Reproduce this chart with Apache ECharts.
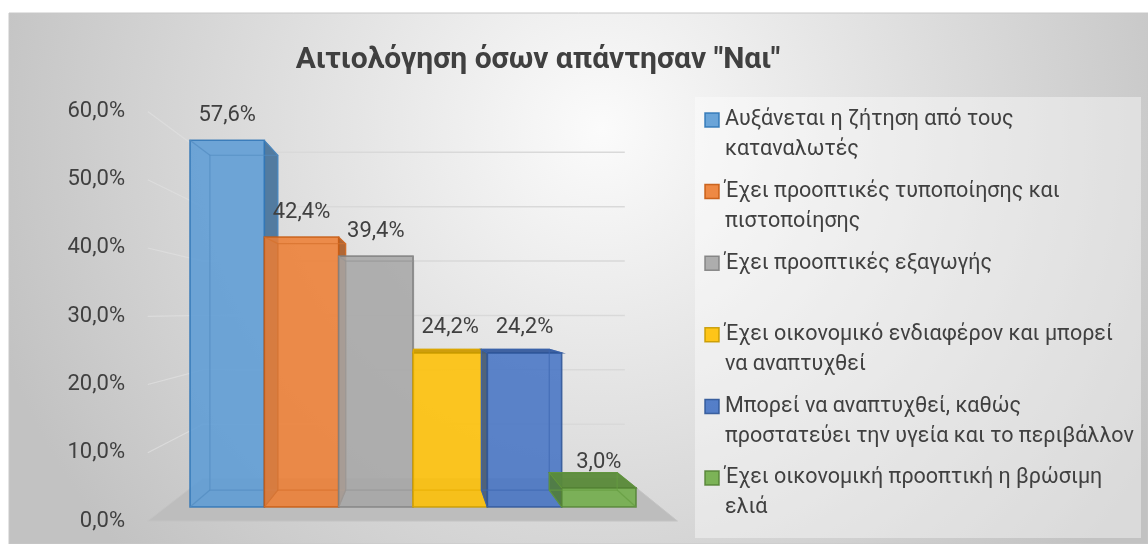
<!DOCTYPE html>
<html>
<head>
<meta charset="utf-8">
<script src="https://cdn.jsdelivr.net/npm/echarts@6/dist/echarts.min.js"></script>
<style>
  html, body { margin: 0; padding: 0; background: #ffffff; }
  #chart { width: 1148px; height: 544px; }
</style>
</head>
<body>
<div id="chart"></div>
<script>
// ---- data ----
const categories = [
  'Αυξάνεται η ζήτηση από τους καταναλωτές',
  'Έχει προοπτικές τυποποίησης και πιστοποίησης',
  'Έχει προοπτικές εξαγωγής',
  'Έχει οικονομικό ενδιαφέρον και μπορεί να αναπτυχθεί',
  'Μπορεί να αναπτυχθεί, καθώς προστατεύει την υγεία και το περιβάλλον',
  'Έχει οικονομική προοπτική η βρώσιμη ελιά'
];
const legendLabels = [
  'Αυξάνεται η ζήτηση από τους\nκαταναλωτές',
  'Έχει προοπτικές τυποποίησης και\nπιστοποίησης',
  'Έχει προοπτικές εξαγωγής',
  'Έχει οικονομικό ενδιαφέρον και μπορεί\nνα αναπτυχθεί',
  'Μπορεί να αναπτυχθεί, καθώς\nπροστατεύει την υγεία και το περιβάλλον',
  'Έχει οικονομική προοπτική η βρώσιμη\nελιά'
];
const values = [57.6, 42.4, 39.4, 24.2, 24.2, 3.0];
const yTicks = [0, 10, 20, 30, 40, 50, 60];
const titleText = 'Αιτιολόγηση όσων απάντησαν "Ναι"';

// ---- palette ----
const faceColors = ['#5b9bd5', '#ed7d31', '#a5a5a5', '#ffc000', '#4472c4', '#70ad47'];
const edgeColors = ['#2e75b6', '#c55a11', '#808080', '#c79a00', '#2f5597', '#548235'];
const TEXT = '#404040';
const FONT = 'Roboto, "Noto Sans", sans-serif';

// ---- perspective settings (in category-band / value units) ----
const VP_CAT = 2.58;    // vanishing point, along the category axis
const VP_VAL = 30.6;    // vanishing point, along the value axis
const K_BACK = 0.913;   // back face of each column
const K_WALL = 0.854;   // back wall plane
const K_FRONT = 1.072;  // front edge of floor / side wall
const WALL_PAD = 0.323; // floor overhang beyond the outer columns

const fmt = v => v.toFixed(1).replace('.', ',') + '%';

function frame(api) {
  const o = api.coord([0, 0]);
  const band = api.size([1, 0])[0];
  const vp = [o[0] + VP_CAT * band, api.coord([0, VP_VAL])[1]];
  return { o, band, vp };
}
function proj(p, k, vp) {
  return [vp[0] + k * (p[0] - vp[0]), vp[1] + k * (p[1] - vp[1])];
}
function shade(hex, f) {
  const n = parseInt(hex.slice(1), 16);
  const r = Math.round(((n >> 16) & 255) * f);
  const g = Math.round(((n >> 8) & 255) * f);
  const b = Math.round((n & 255) * f);
  return 'rgb(' + r + ',' + g + ',' + b + ')';
}
function seg(a, b, style) {
  return { type: 'line', shape: { x1: a[0], y1: a[1], x2: b[0], y2: b[1] }, style };
}

// walls: floor at 0, gridlines on side wall and back wall
function renderWall(params, api) {
  const v = api.value(1);
  const { o, band, vp } = frame(api);
  const y = api.coord([0, v])[1];
  const xl = o[0] - band / 2 - WALL_PAD * band;
  const xr = o[0] + (categories.length - 0.5) * band + WALL_PAD * band;
  if (v === 0) {
    return {
      type: 'polygon',
      shape: { points: [proj([xl, y], K_FRONT, vp), proj([xr, y], K_FRONT, vp),
                        proj([xr, y], K_WALL, vp), proj([xl, y], K_WALL, vp)] },
      style: { fill: '#bdbdbd', stroke: '#c4c4c4', lineWidth: 1 }
    };
  }
  return {
    type: 'group',
    children: [
      seg(proj([xl, y], K_FRONT, vp), proj([xl, y], K_WALL, vp), { stroke: '#dedede', lineWidth: 1.2, opacity: 0.8 }),
      seg(proj([xl, y], K_WALL, vp), proj([xr, y], K_WALL, vp), { stroke: '#d9d9d9', lineWidth: 1.5 })
    ]
  };
}

// columns drawn as transparent boxes
function renderBar(params, api) {
  const i = params.dataIndex;
  const v = api.value(1);
  const { band, vp } = frame(api);
  const top = api.coord([i, v]);
  const base = api.coord([i, 0]);
  const x0 = top[0] - band / 2, x1 = top[0] + band / 2;
  const F = [[x0, top[1]], [x1, top[1]], [x1, base[1]], [x0, base[1]]];
  const B = F.map(p => proj(p, K_BACK, vp));
  const face = faceColors[i], edge = edgeColors[i];
  const inner = { stroke: shade(face, 0.9), lineWidth: 1.2, opacity: 0.7 };
  const kids = [];
  // faces that show outside the front face
  if (B[1][0] > F[1][0] + 0.5) {
    kids.push({ type: 'polygon', shape: { points: [F[1], B[1], B[2], F[2]] },
      style: { fill: shade(face, 0.72), stroke: edge, lineWidth: 1, opacity: 0.9 } });
  }
  if (B[0][0] < F[0][0] - 0.5) {
    kids.push({ type: 'polygon', shape: { points: [F[0], B[0], B[3], F[3]] },
      style: { fill: shade(face, 0.72), stroke: edge, lineWidth: 1, opacity: 0.85 } });
  }
  if (B[0][1] < F[0][1] - 0.5) {
    kids.push({ type: 'polygon', shape: { points: [F[0], F[1], B[1], B[0]] },
      style: { fill: shade(face, 0.8), stroke: edge, lineWidth: 1.2, opacity: 0.95 } });
  }
  // front face
  kids.push({ type: 'polygon', shape: { points: F },
    style: { fill: face, stroke: edge, lineWidth: 1.6, opacity: 0.86 } });
  // hidden edges seen through the front face
  kids.push({ type: 'polygon', shape: { points: B }, style: Object.assign({ fill: 'rgba(0,0,0,0)' }, inner) });
  for (let c = 0; c < 4; c++) kids.push(seg(F[c], B[c], inner));
  // value label
  kids.push({ type: 'text', x: top[0], y: top[1] - 25,
    style: { text: fmt(v), fill: TEXT, font: '22px ' + FONT, align: 'center', verticalAlign: 'middle' } });
  return { type: 'group', children: kids };
}

// legend built from the category list
const legendGraphics = [];
const LEG_Y0 = 120, LEG_STEP = 71.6;
legendLabels.forEach((lab, i) => {
  const cy = LEG_Y0 + i * LEG_STEP;
  legendGraphics.push({
    type: 'rect', x: 705, y: cy - 7, shape: { x: 0, y: 0, width: 14, height: 14 },
    style: { fill: faceColors[i], stroke: edgeColors[i], lineWidth: 1.5, opacity: 0.9 }
  });
  legendGraphics.push({
    type: 'text', x: 725, y: cy - 15,
    style: { text: lab, fill: TEXT, font: '21.5px ' + FONT, lineHeight: 30, verticalAlign: 'top', align: 'left' }
  });
});

const chart = echarts.init(document.getElementById('chart'), null, { renderer: 'canvas' });
chart.setOption({
  animation: false,
  title: {
    text: titleText, left: 533, top: 40, textAlign: 'center',
    textStyle: { fontFamily: FONT, fontWeight: 'bold', fontSize: 30, color: TEXT }
  },
  graphic: [
    { type: 'rect', z: -10, shape: { x: 9, y: 13, width: 1139, height: 531 },
      style: { fill: new echarts.graphic.RadialGradient(0.52, 0.22, 1.2, [
        { offset: 0, color: '#fbfbfb' }, { offset: 1, color: '#c2c2c2' }]),
        stroke: '#c8c8c8', lineWidth: 1 } },
    { type: 'rect', z: -9, shape: { x: 695, y: 97, width: 446, height: 441 },
      style: { fill: 'rgba(255,255,255,0.4)' } },
    ...legendGraphics
  ],
  grid: [
    { left: 190, right: 512, top: 125, bottom: 37 },   // column front plane
    { left: 133, width: 10, top: 111, bottom: 23 }     // value labels on the floor's front edge
  ],
  xAxis: [
    { type: 'category', gridIndex: 0, data: categories, show: false },
    { type: 'category', gridIndex: 1, data: [''], show: false }
  ],
  yAxis: [
    { type: 'value', gridIndex: 0, min: 0, max: 60, interval: 10, show: false },
    { type: 'value', gridIndex: 1, min: 0, max: 60, interval: 10,
      axisLine: { show: false }, axisTick: { show: false }, splitLine: { show: false },
      axisLabel: { formatter: fmt, margin: 8, color: TEXT, fontSize: 22, fontFamily: FONT } }
  ],
  series: [
    { type: 'custom', name: 'walls', xAxisIndex: 0, yAxisIndex: 0, z: 1, silent: true,
      data: yTicks.map(t => [0, t]), renderItem: renderWall },
    { type: 'custom', name: 'Αιτιολόγηση', xAxisIndex: 0, yAxisIndex: 0, z: 3,
      data: values.map((v, i) => [i, v]), renderItem: renderBar }
  ]
});
</script>
</body>
</html>
